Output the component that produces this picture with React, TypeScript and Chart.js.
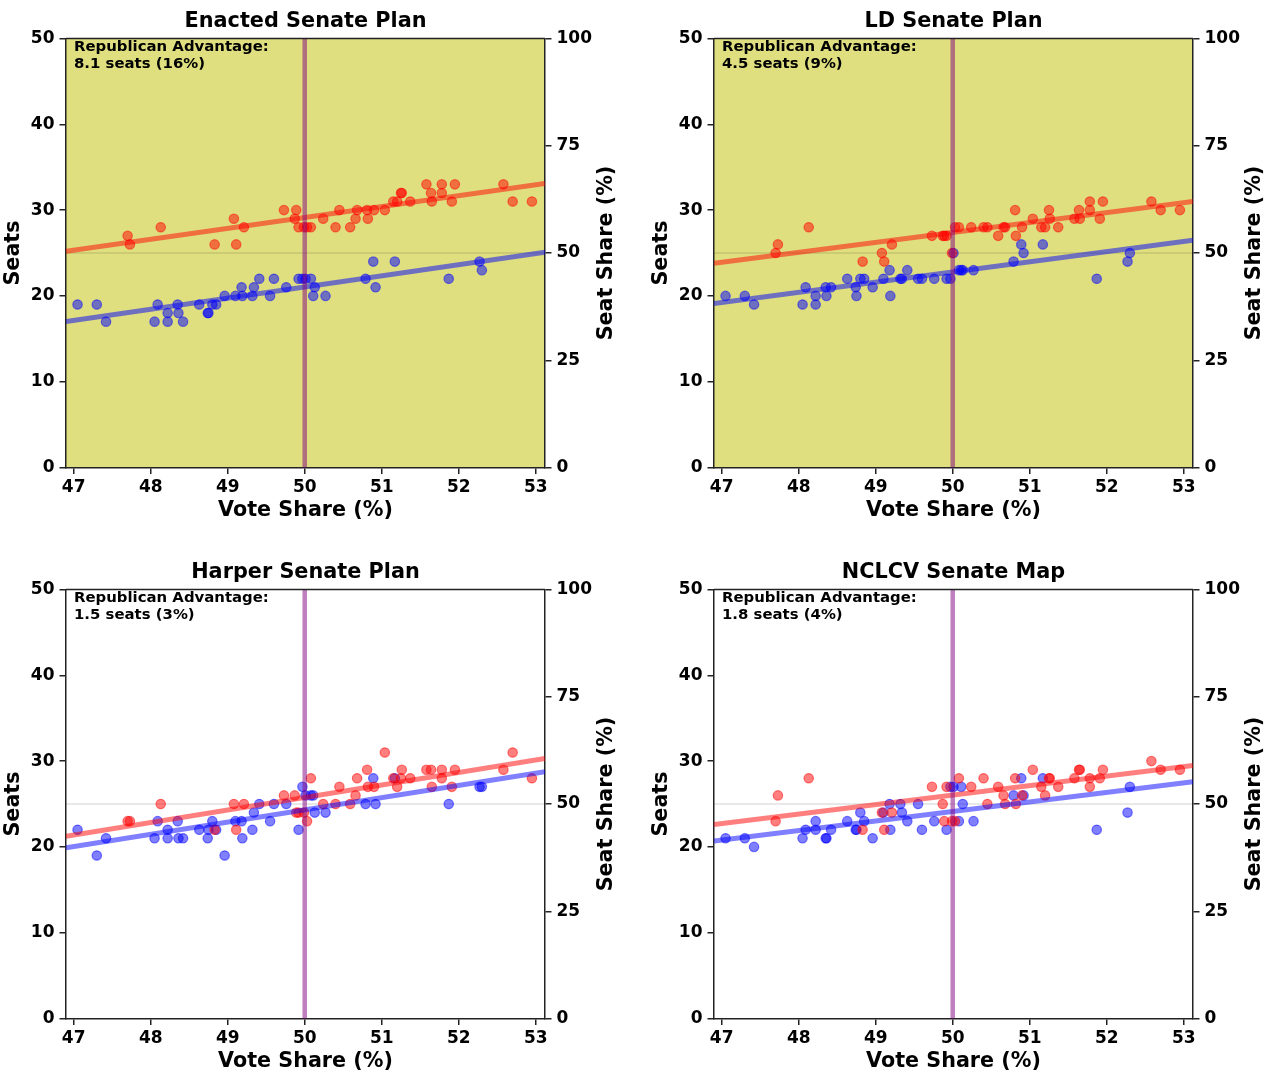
import React, { useEffect, useRef } from 'react';
import { Chart, registerables } from 'chart.js';

Chart.register(...registerables);

// ---- data ----
const demVoteShare = [47.05, 47.30, 47.42, 48.05, 48.09, 48.22, 48.22, 48.35, 48.36, 48.42, 48.63, 48.74, 48.75, 48.80, 48.85, 48.96, 49.10, 49.18, 49.19, 49.32, 49.34, 49.41, 49.55, 49.60, 49.76, 49.92, 49.97, 50.01, 50.08, 50.11, 50.13, 50.27, 50.79, 50.89, 50.92, 51.17, 51.87, 52.27, 52.30];
const repVoteShare = [52.95, 52.70, 52.58, 51.95, 51.91, 51.78, 51.78, 51.65, 51.64, 51.58, 51.37, 51.26, 51.25, 51.20, 51.15, 51.04, 50.90, 50.82, 50.81, 50.68, 50.66, 50.59, 50.45, 50.40, 50.24, 50.08, 50.03, 49.99, 49.92, 49.89, 49.87, 49.73, 49.21, 49.11, 49.08, 48.83, 48.13, 47.73, 47.70];

const enactedDemSeats = [19, 19, 17, 17, 19, 18, 17, 19, 18, 17, 19, 18, 18, 19, 19, 20, 20, 21, 20, 20, 21, 22, 20, 22, 21, 22, 22, 22, 22, 20, 21, 20, 22, 24, 21, 24, 22, 24, 23];
const enactedRepSeats = [31, 31, 33, 33, 31, 32, 33, 31, 32, 33, 31, 32, 32, 31, 31, 30, 30, 29, 30, 30, 29, 28, 30, 28, 29, 28, 28, 28, 28, 30, 29, 30, 28, 26, 29, 26, 28, 26, 27];
const ldDemSeats = [20, 20, 19, 19, 21, 20, 19, 21, 20, 21, 22, 21, 20, 22, 22, 21, 22, 23, 20, 22, 22, 23, 22, 22, 22, 22, 22, 25, 23, 23, 23, 23, 24, 26, 25, 26, 22, 24, 25];
const ldRepSeats = [30, 30, 31, 31, 29, 30, 31, 29, 30, 29, 28, 29, 30, 28, 28, 29, 28, 27, 30, 28, 28, 27, 28, 28, 28, 28, 28, 25, 27, 27, 27, 27, 26, 24, 25, 24, 28, 26, 25];
const harperDemSeats = [22, 19, 21, 21, 23, 22, 21, 23, 21, 21, 22, 21, 22, 23, 22, 19, 23, 23, 21, 22, 24, 25, 23, 25, 25, 22, 27, 26, 26, 26, 24, 24, 25, 28, 25, 28, 25, 27, 27];
const harperRepSeats = [28, 31, 29, 29, 27, 28, 29, 27, 29, 29, 28, 29, 28, 27, 28, 31, 27, 27, 29, 28, 26, 25, 27, 25, 25, 28, 23, 24, 24, 24, 26, 26, 25, 22, 25, 22, 25, 23, 23];
const nclcvDemSeats = [21, 21, 20, 21, 22, 23, 22, 21, 21, 22, 23, 22, 22, 24, 23, 21, 24, 25, 22, 25, 24, 23, 25, 22, 23, 22, 27, 27, 23, 27, 25, 23, 26, 28, 26, 28, 22, 24, 27];
const nclcvRepSeats = [29, 29, 30, 29, 28, 27, 28, 29, 29, 28, 27, 28, 28, 26, 27, 29, 26, 25, 28, 25, 26, 27, 25, 28, 27, 28, 23, 23, 27, 23, 25, 27, 24, 22, 24, 22, 28, 26, 23];

// fitted line end values (seats at the left and right x limits)
const fitX = [46.9, 53.12];
const enactedRepFit = [25.2, 33.1];
const enactedDemFit = [17.0, 25.1];
const ldRepFit = [23.8, 31.0];
const ldDemFit = [19.1, 26.5];
const harperRepFit = [21.25, 30.3];
const harperDemFit = [19.9, 28.75];
const nclcvRepFit = [22.6, 29.5];
const nclcvDemFit = [20.7, 27.6];

const xTickValues = [47, 48, 49, 50, 51, 52, 53];
const seatTickValues = [0, 10, 20, 30, 40, 50];
const seatShareTickValues = [0, 25, 50, 75, 100];

const panelTitles = ['Enacted Senate Plan', 'LD Senate Plan', 'Harper Senate Plan', 'NCLCV Senate Map'];
const advantageTexts = ['8.1 seats (16%)', '4.5 seats (9%)', '1.5 seats (3%)', '1.8 seats (4%)'];
const shadedPanels = [true, true, false, false];

const panels = [
  { dem: enactedDemSeats, rep: enactedRepSeats, demFit: enactedDemFit, repFit: enactedRepFit },
  { dem: ldDemSeats, rep: ldRepSeats, demFit: ldDemFit, repFit: ldRepFit },
  { dem: harperDemSeats, rep: harperRepSeats, demFit: harperDemFit, repFit: harperRepFit },
  { dem: nclcvDemSeats, rep: nclcvRepSeats, demFit: nclcvDemFit, repFit: nclcvRepFit },
];

const positions = [
  { left: 0, top: 0 },
  { left: 648, top: 0 },
  { left: 0, top: 551 },
  { left: 648, top: 551 },
];

const W = 617;
const H = 521;
const FONT = "'DejaVu Sans', sans-serif";
const INK = '#222';
const AXIS_TITLE_SIZE = 20.7;

function Panel({ index }: { index: number }) {
  const ref = useRef<HTMLCanvasElement>(null);
  useEffect(() => {
    const p = panels[index];
    const shaded = shadedPanels[index];
    const title = panelTitles[index];
    const adv = advantageTexts[index];

    const decor = {
      id: 'decor',
      beforeDraw(chart: any) {
        if (!shaded) return;
        const { ctx, chartArea: a } = chart;
        ctx.save();
        ctx.fillStyle = 'rgba(191,191,0,0.5)';
        ctx.fillRect(a.left, a.top, a.right - a.left, a.bottom - a.top);
        ctx.restore();
      },
      beforeDatasetsDraw(chart: any) {
        const { ctx, chartArea: a, scales } = chart;
        const y = scales.y.getPixelForValue(25);
        ctx.save();
        ctx.strokeStyle = 'rgba(0,0,0,0.12)';
        ctx.lineWidth = 1.5;
        ctx.beginPath();
        ctx.moveTo(a.left, y);
        ctx.lineTo(a.right, y);
        ctx.stroke();
        ctx.restore();
      },
      afterDatasetsDraw(chart: any) {
        const { ctx, chartArea: a, scales } = chart;
        const x = scales.x.getPixelForValue(50);
        ctx.save();
        ctx.strokeStyle = 'rgba(128,0,128,0.5)';
        ctx.lineWidth = 4.5;
        ctx.beginPath();
        ctx.moveTo(x, a.top);
        ctx.lineTo(x, a.bottom);
        ctx.stroke();
        ctx.restore();
      },
      afterDraw(chart: any) {
        const { ctx, chartArea: a } = chart;
        ctx.save();
        // top spine
        ctx.strokeStyle = INK;
        ctx.lineWidth = 1.5;
        ctx.beginPath();
        ctx.moveTo(a.left, a.top);
        ctx.lineTo(a.right, a.top);
        ctx.stroke();
        // panel title
        ctx.fillStyle = '#000';
        ctx.font = `bold 20.8px ${FONT}`;
        ctx.textAlign = 'center';
        ctx.textBaseline = 'middle';
        ctx.fillText(title, (a.left + a.right) / 2, 21.5);
        // annotation
        ctx.font = `bold 14.9px ${FONT}`;
        ctx.textAlign = 'left';
        ctx.fillText('Republican Advantage:', a.left + 8, a.top + 9);
        ctx.fillText(adv, a.left + 8, a.top + 25.5);
        // right axis title (reads bottom to top)
        ctx.font = `bold ${AXIS_TITLE_SIZE}px ${FONT}`;
        ctx.textAlign = 'center';
        ctx.translate(chart.width - 10, (a.top + a.bottom) / 2);
        ctx.rotate(-Math.PI / 2);
        ctx.fillText('Seat Share (%)', 0, 0);
        ctx.restore();
      },
    };

    const tickFont = { family: FONT, weight: 'bold' as const, size: 17 };
    const titleFont = { family: FONT, weight: 'bold' as const, size: AXIS_TITLE_SIZE, lineHeight: 1 };
    const gridOpts = { drawOnChartArea: false, drawTicks: true, tickLength: 6.5, color: INK, lineWidth: 1.5 };
    const borderOpts = { display: true, color: INK, width: 1.5 };

    const pts = (xs: number[], ys: number[]) => xs.map((x, i) => ({ x, y: ys[i] }));

    const chart = new Chart(ref.current as HTMLCanvasElement, {
      type: 'scatter',
      data: {
        datasets: [
          {
            label: 'Rep fit',
            data: pts(fitX, p.repFit),
            showLine: true,
            pointRadius: 0,
            borderColor: 'rgba(255,0,0,0.5)',
            borderWidth: 5,
            backgroundColor: 'rgba(255,0,0,0.5)',
          },
          {
            label: 'Dem fit',
            data: pts(fitX, p.demFit),
            showLine: true,
            pointRadius: 0,
            borderColor: 'rgba(0,0,255,0.5)',
            borderWidth: 5,
            backgroundColor: 'rgba(0,0,255,0.5)',
          },
          {
            label: 'Rep',
            data: pts(repVoteShare, p.rep),
            pointRadius: 4.7,
            pointBorderWidth: 1.2,
            backgroundColor: 'rgba(255,0,0,0.5)',
            borderColor: 'rgba(255,0,0,0.5)',
          },
          {
            label: 'Dem',
            data: pts(demVoteShare, p.dem),
            pointRadius: 4.7,
            pointBorderWidth: 1.2,
            backgroundColor: 'rgba(0,0,255,0.5)',
            borderColor: 'rgba(0,0,255,0.5)',
          },
        ],
      },
      options: {
        responsive: false,
        animation: false,
        devicePixelRatio: 1,
        layout: { padding: { top: 38.5, left: 0, right: 0, bottom: 0 } },
        plugins: {
          legend: { display: false },
          tooltip: { enabled: false },
          title: { display: false },
        },
        scales: {
          x: {
            type: 'linear',
            position: 'bottom',
            min: fitX[0],
            max: fitX[1],
            afterBuildTicks: (axis: any) => {
              axis.ticks = xTickValues.map((v) => ({ value: v }));
            },
            afterFit: (axis: any) => {
              axis.height = 53.5;
            },
            grid: gridOpts,
            border: borderOpts,
            ticks: { font: tickFont, color: '#000', padding: 3, maxRotation: 0, autoSkip: false },
            title: { display: true, text: 'Vote Share (%)', font: titleFont, color: '#000', padding: { top: 0, bottom: 0 } },
          },
          y: {
            type: 'linear',
            position: 'left',
            min: 0,
            max: 50,
            afterBuildTicks: (axis: any) => {
              axis.ticks = seatTickValues.map((v) => ({ value: v }));
            },
            afterFit: (axis: any) => {
              axis.width = 66;
            },
            grid: gridOpts,
            border: borderOpts,
            ticks: { font: tickFont, color: '#000', padding: 5, autoSkip: false },
            title: { display: true, text: 'Seats', font: titleFont, color: '#000', padding: { top: 3.7, bottom: 0 } },
          },
          y1: {
            type: 'linear',
            position: 'right',
            min: 0,
            max: 100,
            afterBuildTicks: (axis: any) => {
              axis.ticks = seatShareTickValues.map((v) => ({ value: v }));
            },
            afterFit: (axis: any) => {
              axis.width = 72;
            },
            grid: gridOpts,
            border: borderOpts,
            ticks: { font: tickFont, color: '#000', padding: 5, autoSkip: false },
            title: { display: false },
          },
        },
      } as any,
      plugins: [decor],
    });
    return () => chart.destroy();
  }, [index]);

  const pos = positions[index];
  return (
    <canvas
      ref={ref}
      width={W}
      height={H}
      style={{ position: 'absolute', left: pos.left, top: pos.top, width: W, height: H }}
    />
  );
}

export default function App() {
  return (
    <div style={{ position: 'absolute', left: 0, top: 0, width: 1265, height: 1072, background: '#fff', overflow: 'hidden' }}>
      {[0, 1, 2, 3].map((i) => (
        <Panel key={i} index={i} />
      ))}
    </div>
  );
}
